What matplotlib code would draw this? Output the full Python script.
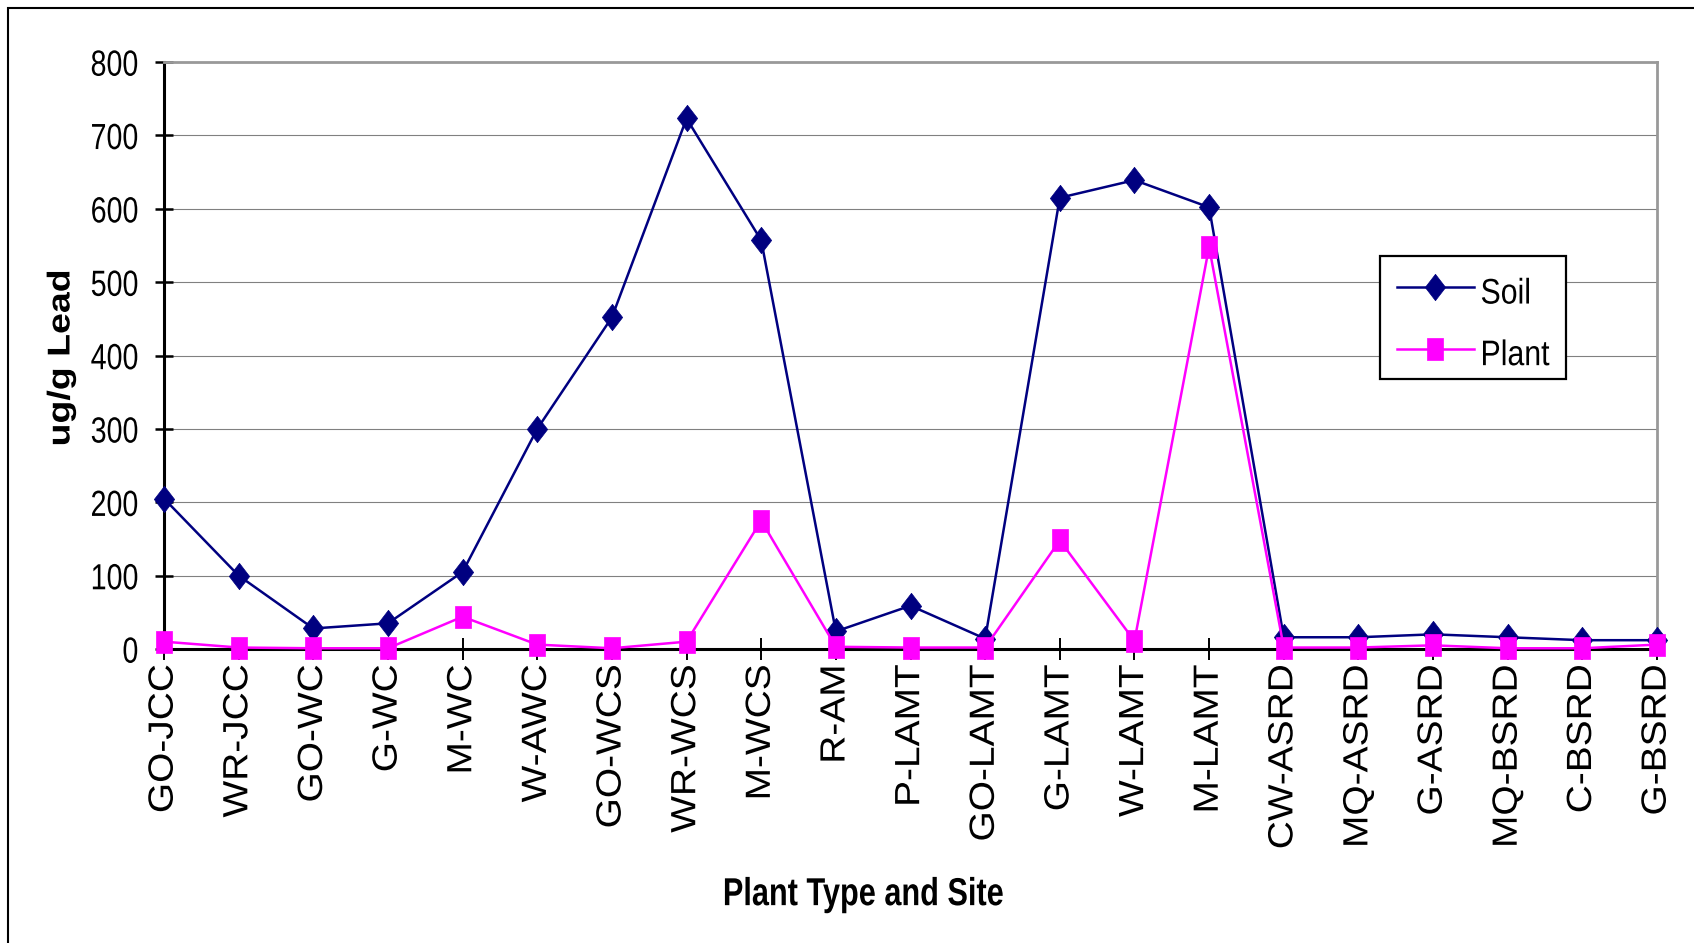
import matplotlib
matplotlib.use("Agg")
import matplotlib.pyplot as plt
from matplotlib import font_manager as fm
from matplotlib.path import Path
from matplotlib.patches import Rectangle
from matplotlib.patheffects import AbstractPathEffect
from matplotlib.transforms import Affine2D

categories = ["GO-JCC", "WR-JCC", "GO-WC", "G-WC", "M-WC", "W-AWC", "GO-WCS",
              "WR-WCS", "M-WCS", "R-AM", "P-LAMT", "GO-LAMT", "G-LAMT", "W-LAMT",
              "M-LAMT", "CW-ASRD", "MQ-ASRD", "G-ASRD", "MQ-BSRD", "C-BSRD", "G-BSRD"]
soil = [205, 100, 28, 35, 105, 300, 452, 723, 557, 24, 59, 14, 615, 639, 602,
        16, 16, 20, 16, 12, 12]
plant = [10, 2, 1, 1, 44, 6, 1, 10, 175, 3, 2, 2, 148, 11, 548,
         2, 2, 5, 1, 1, 6]
yticks = [0, 100, 200, 300, 400, 500, 600, 700, 800]

names = {f.name for f in fm.fontManager.ttflist}
regular = "Liberation Sans" if "Liberation Sans" in names else "DejaVu Sans"


class StretchY(AbstractPathEffect):
    """Scale glyph height (text-path y) about the glyphs' vertical centre."""
    def __init__(self, sy, dy=0.0):
        super().__init__()
        self.sy = sy
        self.dy = dy

    def draw_path(self, renderer, gc, tpath, affine, rgbFace=None):
        ext = tpath.get_extents()
        yc = 0.5 * (ext.y0 + ext.y1)
        t = Affine2D().translate(0, -yc).scale(1, self.sy).translate(0, yc)
        t = t + affine + Affine2D().translate(0, self.dy)
        renderer.draw_path(gc, tpath, t, rgbFace)


W, H = 1694, 943
fig = plt.figure(figsize=(W / 100, H / 100), dpi=100)
fig.patch.set_facecolor("white")

# outer frame (cropped at right/bottom)
fig.patches.append(Rectangle((8 / W, -0.05), 1.1, 1 - 8 / H + 0.05,
                             transform=fig.transFigure, fill=False,
                             edgecolor="black", linewidth=1.5))

left, right, top, bottom = 164 / W, 1657 / W, 1 - 62 / H, 1 - 649 / H
ax = fig.add_axes([left, bottom, right - left, top - bottom])

diamond = Path([(0, 1), (0.77, 0), (0, -1), (-0.77, 0), (0, 1)],
               [Path.MOVETO, Path.LINETO, Path.LINETO, Path.LINETO, Path.CLOSEPOLY])
rect = Path([(-0.72, -1), (0.72, -1), (0.72, 1), (-0.72, 1), (-0.72, -1)],
            [Path.MOVETO, Path.LINETO, Path.LINETO, Path.LINETO, Path.CLOSEPOLY])

x = list(range(len(categories)))
ax.plot(x, soil, color="#000080", linewidth=1.8, marker=diamond, markersize=19,
        markerfacecolor="#000080", markeredgecolor="#000080", markeredgewidth=0.5,
        label="Soil", clip_on=False, zorder=3)
ax.plot(x, plant, color="#FF00FF", linewidth=1.8, marker=rect, markersize=16,
        markerfacecolor="#FF00FF", markeredgecolor="#FF00FF", markeredgewidth=0.5,
        label="Plant", clip_on=False, zorder=4)

ax.set_xlim(0, len(categories) - 1)
ax.set_ylim(0, 800)
ax.set_yticks(yticks)
ax.set_xticks(x)
ax.set_xticklabels(categories, rotation=90, family=regular, fontsize=28)
for lab in ax.get_xticklabels():
    lab.set_path_effects([StretchY(0.9)])
for lab in ax.get_yticklabels():
    lab.set_family(regular)
    lab.set_fontsize(20.6)
    lab.set_path_effects([StretchY(1.27)])
ax.tick_params(axis="y", direction="inout", length=13, width=1.8, pad=12)
ax.tick_params(axis="x", direction="inout", length=16, width=1.4, pad=3)

ax.grid(axis="y", color="#808080", linewidth=0.8)
ax.set_axisbelow(True)
for s in ("left", "bottom"):
    ax.spines[s].set_color("black")
    ax.spines[s].set_linewidth(2.2)
for s in ("top", "right"):
    ax.spines[s].set_color("#999999")
    ax.spines[s].set_linewidth(2)

fig.text(61 / W, 1 - 358 / H, "ug/g Lead", rotation=90, ha="center", va="center",
         family=regular, fontweight="bold", fontsize=27,
         path_effects=[StretchY(0.84)])
fig.text(863 / W, 1 - 895 / H, "Plant Type and Site", ha="center", va="center",
         family=regular, fontweight="bold", fontsize=22.1,
         path_effects=[StretchY(1.27)])

leg = ax.legend(loc="upper left",
                bbox_to_anchor=((1380 - 164) / (1657 - 164), (649 - 256) / (649 - 62)),
                prop={"family": regular, "size": 21.8},
                frameon=True, fancybox=False, edgecolor="black", framealpha=1,
                handlelength=2.54, handleheight=0.04, handletextpad=0.23,
                borderpad=0.55, labelspacing=1.11, borderaxespad=0)
leg.get_frame().set_linewidth(1.6)
for t in leg.get_texts():
    t.set_path_effects([StretchY(1.175, dy=-7)])

fig.savefig("out.png", dpi=100, facecolor="white")
